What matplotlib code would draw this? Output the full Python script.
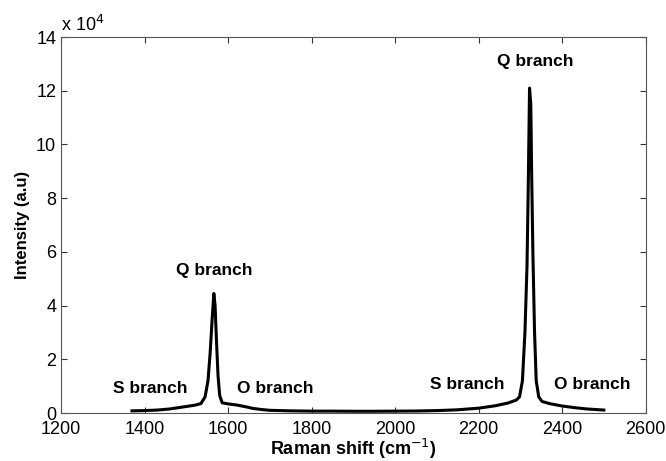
import matplotlib
matplotlib.use('Agg')
import matplotlib.pyplot as plt
from matplotlib.ticker import FuncFormatter

plt.rcParams['font.family'] = ['Liberation Sans', 'DejaVu Sans']

# Raman spectrum
shift = [1370, 1400, 1430, 1460, 1490, 1520, 1535, 1545, 1552, 1557, 1562, 1566,
         1569, 1572, 1576, 1580, 1586, 1600, 1620, 1640, 1660, 1680, 1700, 1750,
         1800, 1850, 1900, 1950, 2000, 2050, 2100, 2150, 2200, 2240, 2270, 2290,
         2298, 2305, 2311, 2316, 2319, 2322, 2325, 2327, 2330, 2334, 2338, 2344,
         2352, 2370, 2400, 2430, 2460, 2500]
intensity = [800, 900, 1100, 1500, 2200, 2900, 3500, 6000, 12000, 22000, 35000, 44500,
             40000, 28000, 14000, 6500, 3800, 3400, 3000, 2400, 1700, 1300, 1000, 800,
             700, 700, 650, 650, 700, 750, 900, 1200, 1800, 2700, 3700, 4800,
             6000, 12000, 30000, 55000, 85000, 121000, 115000, 90000, 60000, 30000, 12000, 6000,
             4300, 3500, 2600, 2000, 1500, 1100]

labels = ['S branch', 'Q branch', 'O branch', 'S branch', 'Q branch', 'O branch']
label_x = [1413, 1567, 1712, 2172, 2335, 2472]
label_y = [9300, 53000, 9300, 10800, 130700, 10800]

fig = plt.figure(figsize=(6.66, 4.61), dpi=100)
ax = fig.add_axes([0.0916, 0.1041, 0.8778, 0.8156])
ax.plot(shift, intensity, color='black', linewidth=2.2)

for t, lx, ly in zip(labels, label_x, label_y):
    ax.text(lx, ly, t, ha='center', va='center', fontsize=12.5, fontweight='bold')

ax.set_xlim(1200, 2600)
ax.set_ylim(0, 140000)
ax.set_xticks(range(1200, 2601, 200))
ax.set_yticks(range(0, 140001, 20000))
ax.yaxis.set_major_formatter(FuncFormatter(lambda v, p: '%d' % round(v / 1e4)))
ax.tick_params(direction='in', top=True, right=True, labelsize=13, colors='#333333',
               labelcolor='black', length=4)
ax.tick_params(axis='x', pad=6)
for s in ax.spines.values():
    s.set_color('#555555')
ax.text(0, 1.005, r'x 10$^4$', transform=ax.transAxes, fontsize=13, ha='left', va='bottom')

ax.set_xlabel('Raman shift (cm$^{-1}$)', fontsize=13, fontweight='bold', labelpad=-1)
ax.set_ylabel('Intensity (a.u)', fontsize=12, fontweight='bold', labelpad=4)

fig.savefig('out.png', dpi=100)
